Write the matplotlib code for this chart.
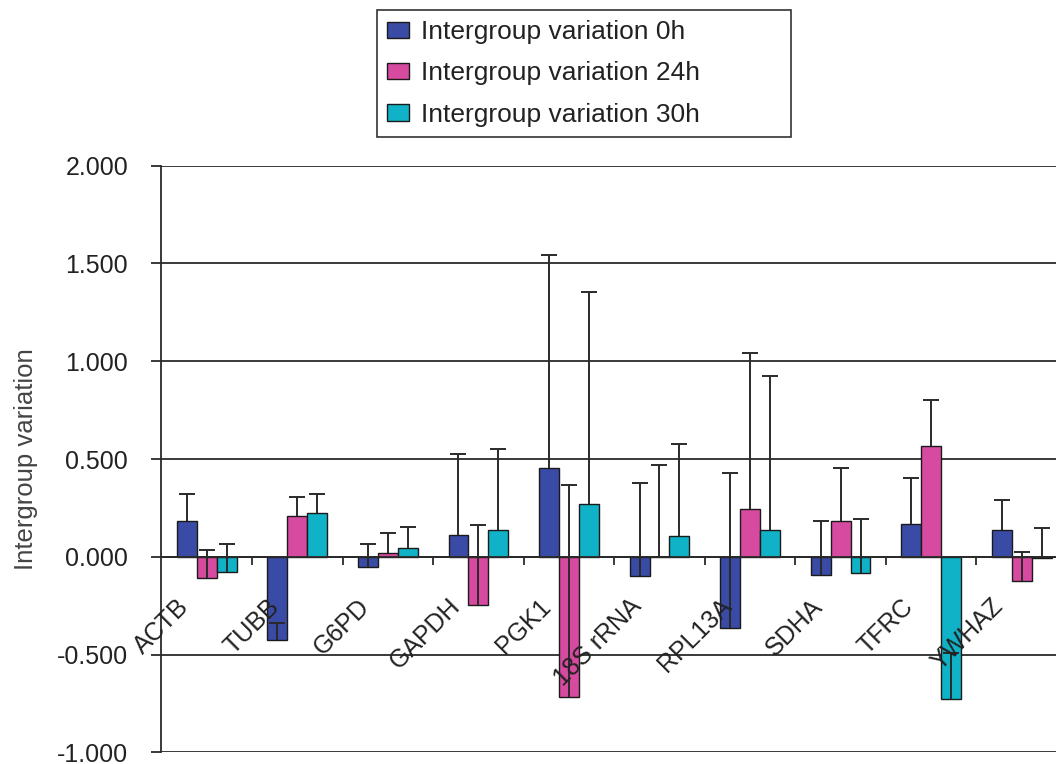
import numpy as np
import matplotlib.pyplot as plt
from matplotlib.transforms import ScaledTranslation

plt.rcParams['font.family'] = ['Liberation Sans', 'DejaVu Sans']
plt.rcParams['axes.unicode_minus'] = False

genes = ['ACTB', 'TUBB', 'G6PD', 'GAPDH', 'PGK1', '18S rRNA', 'RPL13A', 'SDHA', 'TFRC', 'YWHAZ']
series = ['Intergroup variation 0h', 'Intergroup variation 24h', 'Intergroup variation 30h']

var_0h = [0.185, -0.427, -0.053, 0.112, 0.453, -0.097, -0.365, -0.092, 0.168, 0.139]
err_0h = [0.138, 0.090, 0.116, 0.412, 1.092, 0.472, 0.791, 0.276, 0.235, 0.150]
var_24h = [-0.107, 0.209, 0.019, -0.245, -0.717, 0.0, 0.244, 0.183, 0.565, -0.122]
err_24h = [0.144, 0.099, 0.105, 0.410, 1.082, 0.470, 0.796, 0.270, 0.238, 0.148]
var_30h = [-0.078, 0.226, 0.044, 0.138, 0.272, 0.107, 0.135, -0.082, -0.726, -0.005]
err_30h = [0.141, 0.097, 0.106, 0.411, 1.080, 0.469, 0.790, 0.273, 0.236, 0.153]

colors = ['#3a4ba6', '#d64a9f', '#0fb2c6']
yticks = [-1.0, -0.5, 0.0, 0.5, 1.0, 1.5, 2.0]

fig = plt.figure(figsize=(10.56, 7.64), dpi=100)
# right edge runs past the figure, like the cropped original
ax = fig.add_axes([0.1529, 0.0153, 0.8575, 0.7678])

x = np.arange(len(genes))
w = 0.22
for k, (vals, errs) in enumerate([(var_0h, err_0h), (var_24h, err_24h), (var_30h, err_30h)]):
    pos = x + (k - 1) * w
    ax.bar(pos, vals, w, color=colors[k], edgecolor='#1a1a1a', linewidth=1.0,
           label=series[k], zorder=2)
    eb = ax.errorbar(pos, vals, yerr=[np.zeros(len(vals)), errs], fmt='none',
                     ecolor='#2a2a2a', elinewidth=1.4, capsize=5.5, capthick=1.4, zorder=3)
    # only keep the cap at the top end
    for cl in eb[1]:
        if np.allclose(cl.get_ydata(), vals):
            cl.set_visible(False)

ax.set_xlim(-0.5, len(genes) - 0.5)
ax.set_ylim(-1.0, 2.0)
ax.set_yticks(yticks)
ax.set_yticklabels(['%.3f' % v for v in yticks])
ax.yaxis.grid(True, color='#2a2a2a', linewidth=1.3, zorder=0)
ax.set_axisbelow(True)

for s in ['top', 'right']:
    ax.spines[s].set_visible(False)
ax.spines['left'].set_linewidth(1.3)
ax.spines['left'].set_color('#2a2a2a')
ax.spines['bottom'].set_position(('data', 0))
ax.spines['bottom'].set_linewidth(1.3)
ax.spines['bottom'].set_color('#2a2a2a')

ax.set_xticks(x)
ax.set_xticklabels([])
ax.set_xticks(x[:-1] + 0.5, minor=True)
ax.tick_params(axis='x', which='major', length=0)
ax.tick_params(axis='x', which='minor', length=6, width=1.3, direction='out', color='#2a2a2a')
ax.tick_params(axis='y', length=7, width=1.3, direction='out', pad=17,
               labelsize=18, color='#2a2a2a', labelcolor='#222222')

offset = ScaledTranslation(-22 / 100, -46 / 100, fig.dpi_scale_trans)
for i, name in enumerate(genes):
    ax.text(x[i], 0, name, transform=ax.transData + offset, rotation=45,
            rotation_mode='anchor', ha='right', va='center', fontsize=18,
            color='#222222', zorder=4)

ax.set_ylabel('Intergroup variation', fontsize=18.5, color='#444444', labelpad=14)

leg = fig.legend(loc='upper left', bbox_to_anchor=(377 / 1056, 1 - 133 / 764, 414 / 1056, 123 / 764),
                 mode='expand', fontsize=19, frameon=True, fancybox=False, framealpha=1,
                 edgecolor='#333333', handlelength=0.83, handleheight=0.57,
                 handletextpad=0.45, labelspacing=0.66, borderpad=0.38, borderaxespad=0)
leg.get_frame().set_linewidth(1.2)
for t in leg.get_texts():
    t.set_color('#222222')

fig.savefig('out.png', dpi=100)
